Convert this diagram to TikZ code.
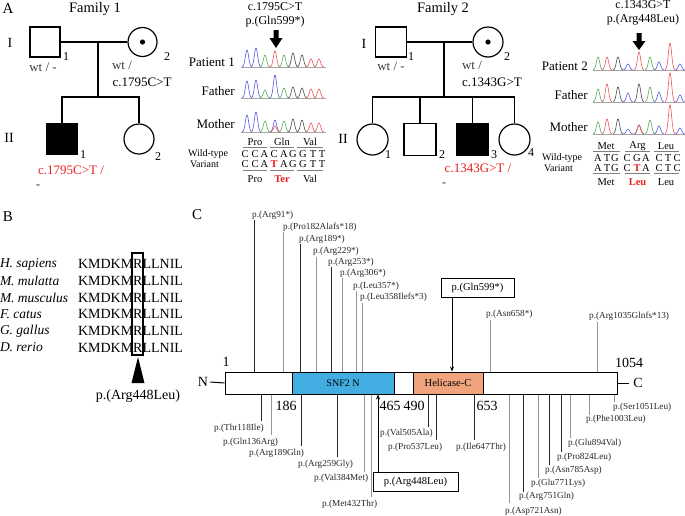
\documentclass[tikz,border=0pt]{standalone}
\usepackage{fontspec}
\setmainfont{Liberation Serif}
\usetikzlibrary{arrows.meta}
\newcommand{\fsz}[1]{\fontsize{#1}{#1}\selectfont}
\definecolor{snf}{RGB}{66,173,224}
\definecolor{hel}{RGB}{240,164,126}
\definecolor{varred}{RGB}{235,30,30}
\definecolor{cb}{RGB}{95,95,230}
\definecolor{cg}{RGB}{95,175,95}
\definecolor{cr}{RGB}{235,95,95}
\definecolor{ck}{RGB}{85,85,85}
\definecolor{mg}{RGB}{150,150,150}
\definecolor{txtg}{RGB}{60,60,60}
\newcommand{\pk}[4]{\draw[#4,line width=0.65pt] plot[domain=-5:5,samples=25,smooth] ({#1+\x},{#2-#3*exp(-((\x)/2.3)*((\x)/2.3))});}
\begin{document}
\begin{tikzpicture}[x=1pt,y=-1pt,
  txt/.style={inner sep=0pt,outer sep=0pt},
  ped/.style={line width=1.2pt},
  sq/.style={draw,line width=1.2pt,rectangle,minimum width=30pt,minimum height=30pt,inner sep=0pt},
  ci/.style={draw,line width=1.2pt,circle,minimum size=29pt,inner sep=0pt},
  mk/.style={line width=0.9pt,black!85},
  mgl/.style={line width=0.9pt,mg},
  mut/.style={inner sep=0pt,font=\fsz{9.2},black!85},
  big/.style={inner sep=0pt,font=\fsz{14}},
  ped txt/.style={inner sep=0pt,font=\fsz{13}},
  num/.style={inner sep=0pt,font=\fsz{12}},
  cod/.style={inner sep=0pt,font=\fsz{10.5}},
  cline/.style={line width=0.7pt,gray},
  base/.style={line width=0.6pt,gray!70}]
\useasboundingbox (0,0) rectangle (685,515);

% ================= Panel A =================
\node[big,font=\fsz{15}] (lA) at (8,9) {A};
\node[txt,font=\fsz{14.5}] (fam1) at (95,9) {Family 1};
\node[big] (g1a) at (10,43) {I};
\node[big] (g2a) at (9,138) {II};

% Family 1 pedigree
\node[sq] (f1a) at (45,42) {};
\node[ci] (f1b) at (142.5,42) {};
\fill (f1b.center) circle (2.6pt);
\draw[ped] (f1a.east) -- (f1b.west);
\coordinate (f1m) at (98,42);
\coordinate (f1s) at (98,97);
\draw[ped] (f1m) -- (f1s);
\node[sq,fill=black,minimum width=31pt,minimum height=31pt] (f1c) at (62,139) {};
\node[ci,minimum size=30pt] (f1d) at (139,139) {};
\draw[ped] (f1c.north) -- (f1c.north |- f1s) -- (f1d.north |- f1s) -- (f1d.north);
\node[num] (n1a) at (66,57) {1};
\node[num] (n1b) at (167,57) {2};
\node[num] (n1c) at (83,155) {1};
\node[num] (n1d) at (158,157) {2};
\node[ped txt,txtg] (w1a) at (43,67) {wt / -};
\node[ped txt,txtg] (w1b) at (122,65) {wt /};
\node[ped txt] (w1c) at (142,82) {c.1795C>T};
\node[ped txt,varred] (w1d) at (71,170) {c.1795C>T /};
\node[ped txt,txtg] (w1e) at (38,187) {-};

% Family 1 chromatogram
\node[txt,font=\fsz{12}] (m1a) at (275,7) {c.1795C>T};
\node[txt,font=\fsz{12}] (m1b) at (275,22) {p.(Gln599*)};
\fill (273.5,30) -- (278.5,30) -- (278.5,38) -- (282.5,38) -- (276,48) -- (269.5,38) -- (273.5,38) -- cycle;
\node[ped txt,anchor=east] (p1) at (235,62) {Patient 1};
\node[ped txt,anchor=east] (fa1) at (235,91) {Father};
\node[ped txt,anchor=east] (mo1) at (235,124) {Mother};
\draw[base] (241,67) -- (326,67);
\draw[base] (241,98) -- (326,98);
\draw[base] (241,132) -- (326,132);
\foreach \px/\ph/\pc in {247/17/cb,256/19/cb,265/12/cg,275/16/cr,284/12/cg,293/14/ck,302/12/ck,311/8/cr,319/8/cr} {\pk{\px}{67}{\ph}{\pc}}
\foreach \px/\ph/\pc in {247/17/cb,256/18/cb,265/8/cg,275/23/cb,284/10/cg,293/11/ck,302/10/ck,311/9/cr,319/9/cr} {\pk{\px}{98}{\ph}{\pc}}
\foreach \px/\ph/\pc in {247/17/cb,256/20/cb,265/11/cg,275/12/cb,275/6/cr,284/11/cg,293/13/ck,302/12/ck,311/9/cr,319/9/cr} {\pk{\px}{132}{\ph}{\pc}}
% codon table 1
\node[txt,font=\fsz{10},anchor=west] (wt1) at (188,154) {Wild-type};
\node[txt,font=\fsz{10},anchor=west] (va1) at (190,164) {Variant};
\foreach \cx/\cl [count=\i] in {245/C,255/C,264.5/A,274/C,284/A,293/G,303/G,313/T,322/T} {\node[cod] (wa\i) at (\cx,154) {\cl};}
\foreach \cx/\cl [count=\i] in {245/C,255/C,264.5/A,284/A,293/G,303/G,313/T,322/T} {\node[cod] (wb\i) at (\cx,164) {\cl};}
\node[cod,varred,font=\fsz{10.5}\bfseries] (wbT) at (274,164) {T};
\foreach \a/\b in {243/267,270/294,297/323} {\draw[cline] (\a,147) -- (\b,147); \draw[cline] (\a,170) -- (\b,170);}
\node[cod] (t1a) at (255,142) {Pro};
\node[cod] (t1b) at (282,142) {Gln};
\node[cod] (t1c) at (310,142) {Val};
\node[cod] (b1a) at (255,179) {Pro};
\node[cod,varred,font=\fsz{10.5}\bfseries] (b1b) at (282,179) {Ter};
\node[cod] (b1c) at (310,179) {Val};

% Family 2 pedigree
\node[txt,font=\fsz{14.5}] (fam2) at (443,9) {Family 2};
\node[big] (g1b) at (364,44) {I};
\node[big] (g2b) at (343,139) {II};
\node[sq,minimum width=31pt] (f2a) at (391,42) {};
\node[ci,minimum size=30pt] (f2b) at (488,42) {};
\fill (f2b.center) circle (2.6pt);
\draw[ped] (f2a.east) -- (f2b.west);
\coordinate (f2m) at (444,42);
\coordinate (f2s) at (444,97);
\draw[ped] (f2m) -- (f2s);
\node[ci,minimum size=31pt] (f2c) at (372.5,139.5) {};
\node[sq,minimum width=32pt,minimum height=32pt] (f2d) at (420,139.5) {};
\node[sq,fill=black,minimum width=32pt,minimum height=32pt] (f2e) at (472.5,139.5) {};
\node[ci,minimum size=31pt] (f2f) at (514.5,139.5) {};
\draw[ped] (f2c.north) -- (f2c.north |- f2s) -- (f2f.north |- f2s) -- (f2f.north);
\draw[ped] (f2d.north) -- (f2d.north |- f2s);
\draw[ped] (f2e.north) -- (f2e.north |- f2s);
\node[num] (n2a) at (411,57) {1};
\node[num] (n2b) at (507,57) {2};
\node[num] (n2c) at (388,155) {1};
\node[num] (n2d) at (442,155) {2};
\node[num] (n2e) at (494,155) {3};
\node[num] (n2f) at (531,153) {4};
\node[ped txt,txtg] (w2a) at (391,66) {wt / -};
\node[ped txt,txtg] (w2b) at (472,65) {wt /};
\node[ped txt] (w2c) at (492,82) {c.1343G>T};
\node[ped txt,varred] (w2d) at (478,168) {c.1343G>T /};
\node[ped txt,txtg] (w2e) at (444,185) {-};

% Family 2 chromatogram
\node[txt,font=\fsz{12}] (m2a) at (643,5) {c.1343G>T};
\node[txt,font=\fsz{12}] (m2b) at (643,20) {p.(Arg448Leu)};
\fill (636.5,33) -- (641.5,33) -- (641.5,41) -- (645.5,41) -- (639,50) -- (632.5,41) -- (636.5,41) -- cycle;
\node[ped txt,anchor=east] (p2) at (588,66) {Patient 2};
\node[ped txt,anchor=east] (fa2) at (588,95) {Father};
\node[ped txt,anchor=east] (mo2) at (588,127) {Mother};
\draw[base] (593,70) -- (685,70);
\draw[base] (593,102) -- (685,102);
\draw[base] (593,134) -- (685,134);
\foreach \px/\ph/\pc in {598/13/cg,607/13/cr,618/13/ck,628/6/cb,639/18/cr,650/13/cg,659/8/cb,670/27/cr,680/6/cb} {\pk{\px}{70}{\ph}{\pc}}
\foreach \px/\ph/\pc in {598/13/cg,607/18/cr,618/15/ck,628/9/cb,639/18/ck,650/15/cg,659/10/cb,670/29/cr,680/7/cb} {\pk{\px}{102}{\ph}{\pc}}
\foreach \px/\ph/\pc in {598/12/cg,607/15/cr,618/15/ck,628/5/cb,639/9/ck,639/9/cr,650/14/cg,659/8/cb,670/29/cr,680/6/cb} {\pk{\px}{134}{\ph}{\pc}}
% codon table 2
\node[txt,font=\fsz{10},anchor=west] (wt2) at (542,158) {Wild-type};
\node[txt,font=\fsz{10},anchor=west] (va2) at (544,168) {Variant};
\foreach \cx/\cl [count=\i] in {598/A,607/T,615/G,627/C,637/G,646/A,659/C,668/T,677/C} {\node[cod] (xa\i) at (\cx,158) {\cl};}
\foreach \cx/\cl [count=\i] in {598/A,607/T,615/G,627/C,646/A,659/C,668/T,677/C} {\node[cod] (xb\i) at (\cx,168) {\cl};}
\node[cod,varred,font=\fsz{10.5}\bfseries] (xbT) at (637,168) {T};
\foreach \a/\b in {593/620,625/650,654/679} {\draw[cline] (\a,151) -- (\b,151); \draw[cline] (\a,173) -- (\b,173);}
\node[cod] (t2a) at (606,146) {Met};
\node[cod] (t2b) at (637.5,146) {Arg};
\node[cod] (t2c) at (666,146) {Leu};
\node[cod] (b2a) at (606,182) {Met};
\node[cod,varred,font=\fsz{10.5}\bfseries] (b2b) at (637.5,182) {Leu};
\node[cod] (b2c) at (666,182) {Leu};

% ================= Panel B =================
\node[big,font=\fsz{15}] (lB) at (8,217) {B};
\foreach \sp/\sy [count=\i] in {H. sapiens/264,M. mulatta/281,M. musculus/297.5,F. catus/314,G. gallus/331,D. rerio/347.5} {
  \node[txt,font=\fsz{13.5}\itshape,anchor=west] (sp\i) at (0,\sy) {\sp};
  \node[txt,font=\fsz{14},anchor=west] (sq\i) at (78,\sy) {KMDKMRLLNIL};
}
\draw[line width=1.1pt] (132,253) rectangle (143,355);
\fill (138,357) -- (144.5,383) -- (131.5,383) -- cycle;
\node[txt,font=\fsz{14}] (bl) at (138,396) {p.(Arg448Leu)};

% ================= Panel C =================
\node[big,font=\fsz{15}] (lC) at (197,215) {C};
\node[draw,line width=1pt,minimum width=392pt,minimum height=22pt,inner sep=0pt] (bar) at (421,383) {};
\node[draw,line width=1pt,fill=snf,minimum width=102pt,minimum height=22pt,inner sep=0pt,font=\fsz{10}] (snf) at (343,383) {SNF2 N};
\node[draw,line width=1pt,fill=hel,minimum width=70pt,minimum height=22pt,inner sep=0pt,font=\fsz{10.5}] (helc) at (448,383) {Helicase-C};
\node[big] (nN) at (203,382) {N};
\node[big] (nC) at (638,383) {C};
\draw[line width=1pt] (nN.east) ++(2,0) -- (bar.west);
\draw[line width=1pt] (bar.east) -- ++(11,0);
\node[big] (k1) at (226,362) {1};
\node[big] (k1054) at (629,363) {1054};
\node[big] (k186) at (286,406) {186};
\node[big] (k465) at (390,406) {465};
\node[big] (k490) at (414,406) {490};
\node[big] (k653) at (487,406) {653};

% variants above bar
\foreach \lx/\ly/\vx/\vt/\st/\lab [count=\i] in {
  252/215/254/220/mk/p.(Arg91*),
  283/227/283/232/mgl/p.(Pro182Alafs*18),
  299/239/300/244/mk/p.(Arg189*),
  313/251/316/257/mgl/p.(Arg229*),
  328/262/331/267/mk/p.(Arg253*),
  340/273/342/278/mgl/p.(Arg306*),
  353/286/356/291/mgl/p.(Leu357*),
  360/297/362/303/mgl/p.(Leu358Ilefs*3),
  486/314/490/320/mgl/p.(Asn658*),
  589/316/597/322/mgl/p.(Arg1035Glnfs*13)} {
  \node[mut,anchor=west] (va\i) at (\lx,\ly) {\lab};
  \coordinate (vt\i) at (\vx,\vt);
  \draw[\st] (vt\i) -- (vt\i |- bar.north);
}
% variants below bar
\foreach \lx/\ly/\vx/\vb/\st/\lab [count=\i] in {
  214/428/261/421/mk/p.(Thr118Ile),
  223/442/271/435/mgl/p.(Gln136Arg),
  249/453/301/446/mk/p.(Arg189Gln),
  298/464/337/457/mk/p.(Arg259Gly),
  314/478/364/472/mgl/p.(Val384Met),
  322/504/371/497/mgl/p.(Met432Thr),
  380/433/428/427/mk/p.(Val505Ala),
  388/447/436/440/mk/p.(Pro537Leu),
  456/447/474/440/mk/p.(Ile647Thr),
  505/511/509/503/mgl/p.(Asp721Asn),
  519/496/523/492/mk/p.(Arg751Gln),
  531/483/538/478/mgl/p.(Glu771Lys),
  545/470/549/465/mk/p.(Asn785Asp),
  557/457/561/452/mk/p.(Pro824Leu),
  568/443/570/438/mgl/p.(Glu894Val),
  586/419/589/415/mgl/p.(Phe1003Leu),
  613/407/614/402/mgl/p.(Ser1051Leu)} {
  \node[mut,anchor=west] (vb\i) at (\lx,\ly) {\lab};
  \coordinate (vbb\i) at (\vx,\vb);
  \draw[\st] (vbb\i) -- (vbb\i |- bar.south);
}
% boxed variants
\node[draw,line width=1pt,minimum width=73pt,minimum height=19pt,inner sep=0pt,font=\fsz{10.5}] (q599) at (477.5,287.5) {p.(Gln599*)};
\coordinate (q599a) at (452,297);
\draw[line width=0.8pt,-{Stealth[length=5pt,width=4pt]}] (q599a) -- (q599a |- bar.north);
\node[draw,line width=1pt,minimum width=85pt,minimum height=19pt,inner sep=0pt,font=\fsz{10.5}] (r448) at (415.5,481.5) {p.(Arg448Leu)};
\coordinate (r448a) at (378,472);
\draw[line width=0.8pt,-{Stealth[length=5pt,width=4pt]}] (r448a) -- (r448a |- bar.south);
\end{tikzpicture}
\end{document}
